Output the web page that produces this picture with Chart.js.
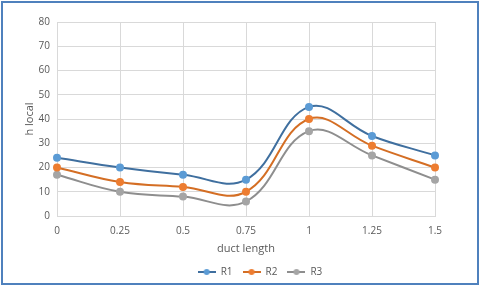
<!DOCTYPE html>
<html>
<head>
<meta charset="utf-8">
<script src="https://cdn.jsdelivr.net/npm/chart.js@4/dist/chart.umd.min.js"></script>
<style>
    html, body { margin: 0; padding: 0; background: #fff; }
    #frame {
        position: absolute;
        left: 1px; top: 1px;
        width: 474px; height: 280px;
        border: 2px solid #4F81BD;
        background: #fff;
    }
    #frame canvas { display: block; }
</style>
</head>
<body>
<div id="frame"><canvas id="chart" width="474" height="280"></canvas></div>
<script>
// data
const ductLength = ['0', '0.25', '0.5', '0.75', '1', '1.25', '1.5'];
const r1 = [24, 20, 17, 15, 45, 33, 25];
const r2 = [20, 14, 12, 10, 40, 29, 20];
const r3 = [17, 10, 8, 6, 35, 25, 15];

const lineColors = ['#3F6F9F', '#D46E24', '#8E8E8E'];
const markColors = ['#5B9BD5', '#ED7D31', '#A5A5A5'];
const textColor = '#595959';
const gridColor = '#D9D9D9';

// legend symbol: short line with a dot in the middle
function legendIcon(line, mark) {
    const c = document.createElement('canvas');
    c.width = 18; c.height = 8;
    const g = c.getContext('2d');
    g.strokeStyle = line;
    g.lineWidth = 2;
    g.beginPath();
    g.moveTo(0, 4);
    g.lineTo(18, 4);
    g.stroke();
    g.fillStyle = mark;
    g.beginPath();
    g.arc(9, 4, 3, 0, Math.PI * 2);
    g.fill();
    return c;
}

function makeSet(label, data, i) {
    return {
        label: label,
        data: data,
        borderColor: lineColors[i],
        backgroundColor: markColors[i],
        pointBackgroundColor: markColors[i],
        pointBorderColor: markColors[i],
        borderWidth: 2,
        pointRadius: 3,
        tension: 0.4,
        fill: false
    };
}

// the legend sits centred on the whole frame, not on the padded area
const shiftLegend = {
    id: 'shiftLegend',
    afterLayout(chart) {
        chart.legend.left += 31;
        chart.legend.right += 31;
        chart.legend.top += 2;
        chart.legend.bottom += 2;
    }
};

new Chart(document.getElementById('chart'), {
    type: 'line',
    data: {
        labels: ductLength,
        datasets: [makeSet('R1', r1, 0), makeSet('R2', r2, 1), makeSet('R3', r3, 2)]
    },
    plugins: [shiftLegend],
    options: {
        responsive: false,
        animation: false,
        layout: {
            padding: { left: 20, right: 42, top: 19, bottom: -2 }
        },
        plugins: {
            tooltip: { enabled: false },
            legend: {
                position: 'bottom',
                labels: {
                    usePointStyle: true,
                    boxWidth: 18,
                    pointStyleWidth: 18,
                    color: textColor,
                    font: { family: 'Open Sans', size: 10 },
                    padding: 10,
                    generateLabels: function(chart) {
                        return chart.data.datasets.map((ds, i) => ({
                            text: ds.label,
                            fontColor: textColor,
                            pointStyle: legendIcon(lineColors[i], markColors[i]),
                            datasetIndex: i,
                            hidden: false,
                            lineWidth: 0,
                            strokeStyle: 'transparent',
                            fillStyle: 'transparent'
                        }));
                    }
                }
            }
        },
        scales: {
            x: {
                offset: false,
                grid: { color: gridColor, drawTicks: false },
                border: { color: gridColor },
                ticks: {
                    color: textColor,
                    font: { family: 'Open Sans', size: 10 },
                    padding: 9,
                    maxRotation: 0
                },
                title: {
                    display: true,
                    text: 'duct length',
                    color: textColor,
                    font: { family: 'Open Sans', size: 11 },
                    padding: { top: 0, bottom: 0 }
                },
                afterFit: function(s) { s.height = 39; }
            },
            y: {
                min: 0,
                max: 80,
                ticks: {
                    stepSize: 10,
                    color: textColor,
                    font: { family: 'Open Sans', size: 10 },
                    padding: 7
                },
                grid: { color: gridColor, drawTicks: false },
                border: { color: gridColor },
                title: {
                    display: true,
                    text: 'h local',
                    color: textColor,
                    font: { family: 'Open Sans', size: 11 },
                    padding: { top: 0, bottom: 4 }
                },
                afterFit: function(s) { s.width = 34; }
            }
        }
    }
});
</script>
</body>
</html>
